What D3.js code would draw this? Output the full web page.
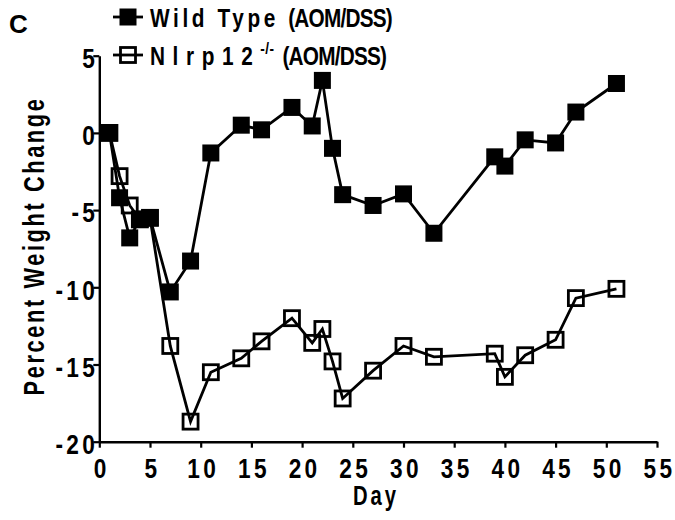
<!DOCTYPE html>
<html><head><meta charset="utf-8">
<script src="https://cdn.jsdelivr.net/npm/d3@7/dist/d3.min.js"></script>
<style>
body{margin:0;background:#fff;}
svg{display:block;font-family:"Liberation Sans",Arial,sans-serif;font-weight:bold;}
</style></head><body>
<svg id="c" width="675" height="520"></svg>
<script>
const wtDays = [1,2,3,4,5,7,9,11,14,16,19,21,22,23,24,27,30,33,39,40,42,45,47,51];
const wtValues = [0,-4.2,-6.8,-5.6,-5.5,-10.3,-8.3,-1.3,0.5,0.2,1.65,0.45,3.4,-1.0,-4.0,-4.7,-3.95,-6.5,-1.55,-2.15,-0.45,-0.65,1.35,3.2];
const koDays = [1,2,3,4,5,7,9,11,14,16,19,21,22,23,24,27,30,33,39,40,42,45,47,51];
const koValues = [0,-2.8,-4.7,-5.6,-5.5,-13.8,-18.7,-15.5,-14.6,-13.5,-12.0,-13.6,-12.7,-14.8,-17.2,-15.4,-13.8,-14.5,-14.3,-15.8,-14.4,-13.4,-10.7,-10.1];
const xTicks = [0,5,10,15,20,25,30,35,40,45,50,55];
const yTicks = [-20,-15,-10,-5,0,5];

const FF = "'Liberation Sans',Arial,sans-serif";
const SX = 0.75, TX = 0.84;
const svg = d3.select("#c");
const x = d3.scaleLinear().domain([0,55]).range([99.3,657]);
const y = d3.scaleLinear().domain([-20,5]).range([441.7,55.7]);
const fmt = d => String(d);

const xa = svg.append("g").attr("transform","translate(0,"+y(-20)+")")
  .call(d3.axisBottom(x).tickValues(xTicks).tickFormat(fmt).tickSize(6).tickSizeOuter(0).tickPadding(11));
const ya = svg.append("g").attr("transform","translate("+x(0)+",0)")
  .call(d3.axisLeft(y).tickValues(yTicks).tickFormat(fmt).tickSize(6).tickSizeOuter(0).tickPadding(0));
[xa,ya].forEach(g=>{
  g.selectAll("path").attr("stroke","#000").attr("stroke-width",2.4);
  g.selectAll("line").attr("stroke","#000").attr("stroke-width",2.2);
  g.selectAll("text").attr("fill","#000").style("font-size","27px").style("font-family",FF).style("font-weight","bold").style("letter-spacing","4px");
});
xa.selectAll("text").attr("transform","translate(2,0) scale("+TX+",1)");
ya.selectAll("text").attr("x",0).attr("dy","0.36em").attr("transform","translate(-1,2) scale("+TX+",1)");

const line = d3.line().x(d=>x(d[0])).y(d=>y(d[1]));
const wt = wtDays.map((d,i)=>[d,wtValues[i]]);
const ko = koDays.map((d,i)=>[d,koValues[i]]);
svg.append("path").datum(ko).attr("d",line).attr("fill","none").attr("stroke","#000").attr("stroke-width",2.8);
svg.selectAll(".ko").data(ko).enter().append("rect").attr("class","ko")
  .attr("x",d=>x(d[0])-7.5).attr("y",d=>y(d[1])-7.5).attr("width",15).attr("height",15)
  .attr("fill","none").attr("stroke","#000").attr("stroke-width",2.8);
svg.append("path").datum(wt).attr("d",line).attr("fill","none").attr("stroke","#000").attr("stroke-width",2.8);
svg.selectAll(".wt").data(wt).enter().append("rect").attr("class","wt")
  .attr("x",d=>x(d[0])-8.5).attr("y",d=>y(d[1])-8.5).attr("width",17).attr("height",17)
  .attr("fill","#000");

svg.append("text").attr("transform","translate(44,246) rotate(-90) scale("+SX+",1)").attr("text-anchor","middle")
  .style("font-size","29px").style("letter-spacing","3.5px").text("Percent Weight Change");
svg.append("text").attr("transform","translate(376,505) scale("+SX+",1)").attr("text-anchor","middle")
  .style("font-size","27px").style("letter-spacing","4px").text("Day");
svg.append("text").attr("x",9).attr("y",33).style("font-size","26px").text("C");

svg.append("line").attr("x1",113).attr("x2",143).attr("y1",17).attr("y2",17).attr("stroke","#000").attr("stroke-width",2.8);
svg.append("rect").attr("x",119.5).attr("y",8.5).attr("width",17).attr("height",17).attr("fill","#000");
const t1 = svg.append("text").attr("transform","translate(150,27) scale(0.8,1)").style("font-size","26px");
t1.append("tspan").style("letter-spacing","4.5px").text("Wild Type ");
t1.append("tspan").style("letter-spacing","-1px").text("(AOM/DSS)");
svg.append("line").attr("x1",113).attr("x2",143).attr("y1",55).attr("y2",55).attr("stroke","#000").attr("stroke-width",2.8);
svg.append("rect").attr("x",120.5).attr("y",47.5).attr("width",15).attr("height",15).attr("fill","none").attr("stroke","#000").attr("stroke-width",2.8);
const t2 = svg.append("text").attr("transform","translate(150,65) scale(0.8,1)").style("font-size","26px");
t2.append("tspan").style("letter-spacing","9.5px").text("Nlrp12");
t2.append("tspan").attr("dy",-11).style("font-size","17px").style("letter-spacing","0.5px").text("-/-");
t2.append("tspan").attr("dy",11).attr("dx",4).style("letter-spacing","-1px").text(" (AOM/DSS)");
</script></body></html>
